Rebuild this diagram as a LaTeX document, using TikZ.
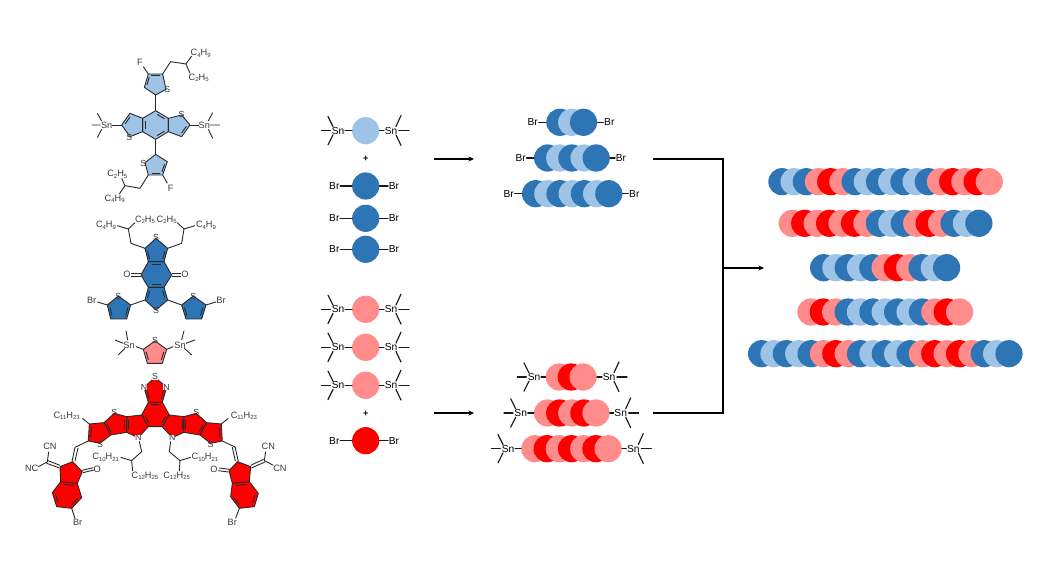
\documentclass[tikz,border=0pt]{standalone}
\usepackage{fontspec}
\setmainfont{Liberation Sans}
\usetikzlibrary{arrows.meta,calc}
\definecolor{cD}{HTML}{2E75B6}
\definecolor{cL}{HTML}{9DC3E6}
\definecolor{cP}{HTML}{FF8B8B}
\definecolor{cR}{HTML}{FF0000}
\definecolor{ink}{HTML}{2A2A2A}
\definecolor{txt}{HTML}{3A3A3A}
\newcommand\subx[1]{\raisebox{-0.3ex}{\fontsize{6}{6}\selectfont #1}}
\newcommand\ml[3]{\node[mtxt] (#1) at (#2) {#3};}
\newcommand\atom[4]{\node[matom] (#2) at (#3) {#4};}
\newcommand\dbl[3]{\draw[mol] ($($(#1)!.14!(#2)$)!.2!(#3)$) -- ($($(#2)!.14!(#1)$)!.2!(#3)$);}
\newcommand\chain[5]{\foreach \cc [count=\ii from 0] in {#5}{\node[ball,fill=\cc] (#1-\ii) at ({#3+\ii*#4},#2) {};}}
\newcommand\snL[3]{\node[lab] (#1) at (#2,#3) {Sn};
  \draw[bond] (#2,#3) ++(-7.7,0) -- ++(-9,0);
  \draw[bond] (#2,#3) ++(-5,-4.2) -- ++(-5,-10);
  \draw[bond] (#2,#3) ++(-5,4.2) -- ++(-5,10);}
\newcommand\snR[3]{\node[lab] (#1) at (#2,#3) {Sn};
  \draw[bond] (#2,#3) ++(8,0) -- ++(10,0);
  \draw[bond] (#2,#3) ++(5,-4.2) -- ++(5,-11);
  \draw[bond] (#2,#3) ++(5,4.2) -- ++(5,10.5);}
\newcommand\halfndt{%
  \filldraw[mol,fill=cR] (320,50)--(365,45)--(385,80)--(355,113)--(320,97)--cycle;
  \filldraw[mol,fill=cR] (252,68)--(283,40)--(320,50)--(320,97)--(272,105)--cycle;
  \filldraw[mol,fill=cR] (208,72)--(252,68)--(272,105)--(240,130)--(205,123)--cycle;
  \dbl{320,50}{320,97}{345,75}
  \dbl{320,50}{320,97}{290,75}
  \dbl{252,68}{272,105}{290,75}
  \dbl{208,72}{205,123}{240,95}
  \draw[mol] (208,72)--(187,55);
  \draw[mol] (205,123)--(165,142);
  \atom{cR}{}{283,38}{S}
  \atom{cR}{}{240,132}{S}
  \node[matom,fill=white] at (355,113) {N};
}
\tikzset{
  ball/.style={circle,minimum size=27.2pt,inner sep=0pt,draw=none},
  lab/.style={inner sep=0.6pt,font=\fontsize{10.2}{11}\selectfont,text=black},
  plus/.style={inner sep=0pt,font=\fontsize{9}{10}\selectfont\bfseries,text=black},
  bond/.style={line width=1.15pt,draw=black!90,line cap=round},
  mol/.style={line width=.9pt,draw=ink,line join=round},
  mtxt/.style={inner sep=0pt,font=\fontsize{9.2}{10}\selectfont,text=txt},
  matom/.style={inner sep=0pt,font=\fontsize{8.8}{9}\selectfont,text=txt},
  pathline/.style={line width=1.35pt,draw=black,line cap=butt,line join=miter},
  arrowline/.style={line width=1.35pt,draw=black,-{Stealth[length=5.5pt,width=5pt]}}
}
\begin{document}
\begin{tikzpicture}[x=1pt,y=-1pt]
\useasboundingbox (0,0) rectangle (1045,588);
\fill[white] (0,0) rectangle (1045,588);

%%% molecule 1
\begin{scope}[shift={(80,40)},x=.3333pt,y=-.3333pt]
\draw[mol] (227,212)--(227,165) (227,298)--(227,343);
\filldraw[mol,fill=cL] (227,212)--(265,235)--(265,275)--(227,298)--(188,275)--(188,235)--cycle;
\filldraw[mol,fill=cL] (265,235)--(305,225)--(330,255)--(305,290)--(265,275)--cycle;
\filldraw[mol,fill=cL] (188,235)--(150,220)--(125,255)--(150,290)--(188,275)--cycle;
\filldraw[mol,fill=cL] (227,165)--(258,148)--(248,102)--(205,102)--(193,142)--cycle;
\filldraw[mol,fill=cL] (227,343)--(195,368)--(205,405)--(248,405)--(262,365)--cycle;
\dbl{227,212}{265,235}{227,255}\dbl{265,275}{227,298}{227,255}\dbl{188,275}{188,235}{227,255}
\dbl{330,255}{305,290}{290,255}\dbl{150,220}{125,255}{165,255}
\dbl{248,102}{205,102}{225,130}\dbl{193,142}{205,102}{225,130}
\dbl{205,405}{248,405}{230,378}\dbl{248,405}{262,365}{230,378}
\atom{cL}{a1}{305,222}{S}\atom{cL}{a2}{148,292}{S}\atom{cL}{a3}{262,148}{S}\atom{cL}{a4}{190,370}{S}
\draw[mol] (205,102)--(190,80) (248,102)--(272,65)--(318,72)--(335,48) (318,72)--(330,100);
\draw[mol] (248,405)--(262,430) (205,405)--(180,445)--(135,437)--(125,415) (135,437)--(118,462);
\ml{f1}{180,68}{F}\ml{f2}{272,445}{F}
\ml{m1a}{362,40}{C\subx{4}H\subx{9}}\ml{m1b}{356,113}{C\subx{2}H\subx{5}}
\ml{m1c}{112,403}{C\subx{2}H\subx{5}}\ml{m1d}{104,476}{C\subx{4}H\subx{9}}
\ml{sn1}{80,255}{Sn}\ml{sn2}{373,255}{Sn}
\draw[mol] (96,255)--(125,255) (330,255)--(358,255);
\draw[mol] (35,255)--(62,255) (52,220)--(65,243) (52,293)--(65,268);
\draw[mol] (390,255)--(420,255) (398,218)--(385,243) (398,295)--(385,268);
\end{scope}

%%% molecule 2 and 3
\begin{scope}[shift={(80,210)},x=.3333pt,y=-.3333pt]
\draw[mol] (195,270)--(152,285) (263,270)--(305,285);
\filldraw[mol,fill=cD] (228,85)--(263,115)--(252,155)--(205,155)--(195,115)--cycle;
\filldraw[mol,fill=cD] (205,155)--(252,155)--(275,195)--(252,232)--(205,232)--(183,195)--cycle;
\filldraw[mol,fill=cD] (205,232)--(252,232)--(263,270)--(228,300)--(195,270)--cycle;
\filldraw[mol,fill=cD] (152,285)--(115,258)--(82,285)--(92,327)--(140,327)--cycle;
\filldraw[mol,fill=cD] (305,285)--(340,258)--(378,285)--(365,327)--(318,327)--cycle;
\dbl{195,115}{205,155}{228,135}\dbl{263,115}{252,155}{228,135}
\dbl{205,232}{195,270}{228,265}\dbl{252,232}{263,270}{228,265}
\dbl{205,155}{252,155}{228,195}\dbl{205,232}{252,232}{228,195}
\dbl{82,285}{92,327}{117,300}\dbl{140,327}{152,285}{117,300}
\dbl{378,285}{365,327}{340,300}\dbl{318,327}{305,285}{340,300}
\atom{cD}{b1}{228,83}{S}\atom{cD}{b2}{228,300}{S}\atom{cD}{b3}{115,258}{S}\atom{cD}{b4}{340,258}{S}
\draw[mol] (183,190)--(153,190) (183,198)--(153,198) (275,190)--(303,190) (275,198)--(303,198);
\ml{o1}{141,193}{O}\ml{o2}{315,193}{O}
\draw[mol] (82,285)--(52,276) (378,285)--(408,276);
\ml{br1}{35,272}{Br}\ml{br2}{423,272}{Br}
\draw[mol] (195,115)--(153,100)--(145,57)--(112,47) (145,57)--(165,38);
\draw[mol] (263,115)--(305,100)--(312,57)--(345,47) (312,57)--(292,38);
\ml{c1}{78,46}{C\subx{4}H\subx{9}}\ml{c2}{195,30}{C\subx{2}H\subx{5}}
\ml{c3}{260,30}{C\subx{2}H\subx{5}}\ml{c4}{378,46}{C\subx{4}H\subx{9}}
% molecule 3
\draw[mol] (168,410)--(190,418) (280,410)--(260,418);
\filldraw[mol,fill=cP] (225,393)--(260,418)--(247,460)--(202,460)--(190,418)--cycle;
\dbl{190,418}{202,460}{225,430}\dbl{260,418}{247,460}{225,430}
\atom{cP}{d1}{225,391}{S}
\ml{sn3}{147,405}{Sn}\ml{sn4}{300,405}{Sn}
\draw[mol] (105,390)--(130,400) (115,435)--(135,415) (138,362)--(143,390);
\draw[mol] (345,390)--(318,400) (335,435)--(313,415) (312,362)--(305,390);
\end{scope}

%%% molecule 4
\begin{scope}[shift={(20,400)},x=.3333pt,y=-.3333pt]
\filldraw[mol,fill=cR] (385,7)--(427,7)--(448,45)--(427,80)--(385,80)--(365,45)--cycle;
\filldraw[mol,fill=cR] (405,-68)--(440,-38)--(427,7)--(385,7)--(372,-38)--cycle;
\dbl{365,45}{385,80}{406,45}\dbl{448,45}{427,80}{406,45}\dbl{385,7}{427,7}{406,45}
\dbl{372,-38}{385,7}{406,-20}\dbl{440,-38}{427,7}{406,-20}
\node[matom,fill=white] (e1) at (405,-70) {S};
\node[matom,fill=white] (e2) at (372,-38) {N};
\node[matom,fill=white] (e3) at (440,-38) {N};
\halfndt
\ml{e4}{140,47}{C\subx{11}H\subx{23}}
% left acceptor
\draw[mol] (165,142)--(156,185) (174,144)--(165,183);
\filldraw[mol,fill=cR] (122,245)--(172,250)--(185,293)--(155,325)--(110,320)--(97,278)--cycle;
\filldraw[mol,fill=cR] (158,185)--(187,215)--(172,250)--(122,245)--(120,200)--cycle;
\dbl{122,245}{172,250}{140,285}\dbl{185,293}{155,325}{140,285}\dbl{110,320}{97,278}{140,285}
\draw[mol] (187,211)--(220,203) (189,218)--(222,210);
\draw[mol] (120,196)--(84,182) (118,204)--(80,190);
\draw[mol] (82,186)--(86,155) (82,186)--(55,200) (155,325)--(165,355);
\ml{e5}{232,208}{O}\ml{e6}{90,139}{CN}\ml{e7}{35,205}{NC}\ml{e8}{173,368}{Br}
\end{scope}
\begin{scope}[shift={(290.6,400)},x=-.3333pt,y=-.3333pt]
\halfndt
\ml{e9}{140,47}{C\subx{11}H\subx{23}}
\end{scope}
\begin{scope}[shift={(205,400)},x=.3333pt,y=-.3333pt]
\draw[mol] (90,140)--(100,185) (82,142)--(91,183);
\filldraw[mol,fill=cR] (82,250)--(133,245)--(160,280)--(148,320)--(103,325)--(77,290)--cycle;
\filldraw[mol,fill=cR] (98,185)--(137,200)--(133,245)--(82,250)--(72,212)--cycle;
\dbl{82,250}{133,245}{115,285}\dbl{160,280}{148,320}{115,285}\dbl{103,325}{77,290}{115,285}
\draw[mol] (74,208)--(42,204) (70,216)--(40,212);
\draw[mol] (137,196)--(176,178) (139,204)--(180,186);
\draw[mol] (178,182)--(182,155) (178,182)--(205,196) (103,325)--(92,355);
\ml{e10}{27,208}{O}\ml{e11}{190,138}{CN}\ml{e12}{225,204}{CN}\ml{e13}{82,367}{Br}
\end{scope}
\begin{scope}[shift={(20,370)},x=.3333pt,y=-.3333pt]
\draw[mol] (358,214)--(365,245)--(335,272)--(302,262) (335,272)--(338,303);
\draw[mol] (452,214)--(448,245)--(480,272)--(512,262) (480,272)--(478,303);
\ml{g1}{257,262}{C\subx{10}H\subx{21}}\ml{g2}{375,318}{C\subx{12}H\subx{25}}
\ml{g3}{555,262}{C\subx{10}H\subx{21}}\ml{g4}{470,318}{C\subx{12}H\subx{25}}
\end{scope}

%%% monomers, upper group
\node[ball,fill=cL] (ma) at (365.7,130.7) {};
\snL{masl}{338}{130.7}\snR{masr}{391}{130.7}
\draw[bond] (masl)--(ma); \draw[bond] (ma)--(masr);
\node[plus] (pa) at (365.7,159.3) {+};
\foreach \yy/\nn in {186/mb,218.3/mc,249.3/md}{
  \node[ball,fill=cD] (\nn) at (365.7,\yy) {};
  \node[lab] (\nn l) at (334.3,\yy) {Br};
  \node[lab] (\nn r) at (394,\yy) {Br};
  \draw[bond] (\nn l)--(\nn); \draw[bond] (\nn)--(\nn r);
}
%%% monomers, lower group
\foreach \yy/\nn in {309.3/me,347.3/mf,385.3/mg}{
  \node[ball,fill=cP] (\nn) at (365.7,\yy) {};
  \snL{\nn sl}{338}{\yy}\snR{\nn sr}{391}{\yy}
  \draw[bond] (\nn sl)--(\nn); \draw[bond] (\nn)--(\nn sr);
}
\node[plus] (pb) at (365.7,413.7) {+};
\node[ball,fill=cR] (mh) at (365.7,440.7) {};
\node[lab] (mhl) at (334.3,440.7) {Br};
\node[lab] (mhr) at (394,440.7) {Br};
\draw[bond] (mhl)--(mh); \draw[bond] (mh)--(mhr);

%%% oligomers, upper
\chain{ta}{122.3}{559.9}{11.8}{cD,cL,cD}
\chain{tb}{158}{547.6}{12.15}{cD,cL,cD,cL,cD}
\chain{tc}{193.7}{535.6}{12.2}{cD,cL,cD,cL,cD,cL,cD}
\node[lab] (tal) at (532.7,122.3) {Br}; \node[lab] (tar) at (609.3,122.3) {Br};
\node[lab] (tbl) at (520.7,158) {Br}; \node[lab] (tbr) at (621,158) {Br};
\node[lab] (tcl) at (508.7,193.7) {Br}; \node[lab] (tcr) at (634.3,193.7) {Br};
\draw[bond] (tal)--(ta-0) (ta-2)--(tar) (tbl)--(tb-0) (tb-4)--(tbr) (tcl)--(tc-0) (tc-6)--(tcr);

%%% oligomers, lower
\chain{ua}{377}{559.3}{11.9}{cP,cR,cP}
\chain{ub}{413}{547.6}{12.1}{cP,cR,cP,cR,cP}
\chain{uc}{448.7}{534.9}{12.2}{cP,cR,cP,cR,cP,cR,cP}
\snL{ual}{534}{377}\snR{uar}{609}{377}
\snL{ubl}{520.7}{413}\snR{ubr}{620.7}{413}
\snL{ucl}{508}{448.7}\snR{ucr}{633.3}{448.7}
\draw[bond] (ual)--(ua-0) (ua-2)--(uar) (ubl)--(ub-0) (ub-4)--(ubr) (ucl)--(uc-0) (uc-6)--(ucr);

%%% copolymers
\chain{ra}{181.7}{781.9}{12.2}{cD,cL,cD,cP,cR,cP,cD,cL,cD,cL,cD,cL,cD,cP,cR,cP,cR,cP}
\chain{rb}{223.3}{792.3}{12.44}{cP,cR,cP,cR,cP,cR,cP,cD,cL,cD,cP,cR,cP,cD,cL,cD}
\chain{rc}{267.7}{823.6}{12.3}{cD,cL,cD,cL,cD,cP,cR,cP,cD,cL,cD}
\chain{rd}{312}{810.9}{12.39}{cP,cR,cP,cD,cL,cD,cL,cD,cL,cD,cP,cR,cP}
\chain{re}{353.7}{761.6}{12.37}{cD,cL,cD,cL,cD,cP,cR,cP,cD,cL,cD,cL,cD,cP,cR,cP,cR,cP,cD,cL,cD}

%%% arrows
\coordinate (a1s) at (434,159); \coordinate (a1e) at (474,159);
\coordinate (a2s) at (434,413); \coordinate (a2e) at (474,413);
\draw[arrowline] (a1s)--(a1e);
\draw[arrowline] (a2s)--(a2e);
\coordinate (j1) at (653,159); \coordinate (j2) at (723,159);
\coordinate (j3) at (723,413); \coordinate (j4) at (653,413);
\coordinate (j5) at (723,268); \coordinate (j6) at (764,268);
\draw[pathline] (j1)--(j2)--(j3)--(j4);
\draw[arrowline] (j5)--(j6);
\end{tikzpicture}
\end{document}
